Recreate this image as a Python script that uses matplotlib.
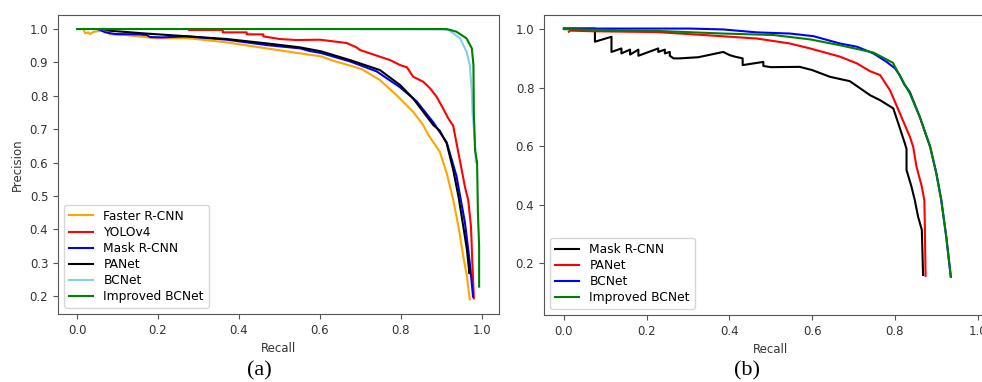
import matplotlib.pyplot as plt

# ---- panel (a) curves: recall / precision ----
a_faster_r = [0.016, 0.020, 0.028, 0.032, 0.040, 0.061, 0.070, 0.081, 0.120, 0.197, 0.270, 0.370, 0.468,
              0.551, 0.603, 0.633, 0.703, 0.748, 0.789, 0.830, 0.855, 0.868, 0.896, 0.913, 0.929, 0.942,
              0.954, 0.963, 0.970]
a_faster_p = [1.000, 0.987, 0.990, 0.985, 0.991, 0.996, 0.996, 0.984, 0.982, 0.972, 0.973, 0.960, 0.942,
              0.927, 0.918, 0.905, 0.880, 0.847, 0.802, 0.752, 0.712, 0.682, 0.632, 0.568, 0.488, 0.408,
              0.318, 0.258, 0.190]

a_yolo_r = [0.277, 0.360, 0.360, 0.419, 0.419, 0.460, 0.460, 0.501, 0.542, 0.600, 0.640, 0.666, 0.690,
            0.699, 0.748, 0.773, 0.798, 0.815, 0.830, 0.855, 0.872, 0.888, 0.904, 0.917, 0.929, 0.942,
            0.950, 0.958, 0.966, 0.973, 0.976, 0.980]
a_yolo_p = [0.997, 0.997, 0.990, 0.990, 0.984, 0.984, 0.978, 0.970, 0.967, 0.968, 0.962, 0.958, 0.945,
            0.937, 0.917, 0.907, 0.892, 0.885, 0.857, 0.842, 0.822, 0.797, 0.762, 0.732, 0.710, 0.628,
            0.578, 0.527, 0.488, 0.408, 0.308, 0.193]

a_mask_r = [0.055, 0.070, 0.094, 0.150, 0.172, 0.180, 0.210, 0.271, 0.370, 0.468, 0.551, 0.575, 0.603,
            0.674, 0.740, 0.797, 0.839, 0.880, 0.913, 0.937, 0.958, 0.970, 0.978]
a_mask_p = [0.998, 0.990, 0.985, 0.984, 0.982, 0.976, 0.975, 0.978, 0.968, 0.952, 0.942, 0.934, 0.928,
            0.903, 0.873, 0.826, 0.783, 0.720, 0.660, 0.560, 0.420, 0.300, 0.198]

a_panet_r = [0.065, 0.080, 0.164, 0.287, 0.370, 0.468, 0.551, 0.603, 0.674, 0.748, 0.798, 0.830, 0.855,
             0.880, 0.896, 0.913, 0.929, 0.942, 0.954, 0.963, 0.969, 0.969]
a_panet_p = [1.000, 0.995, 0.987, 0.977, 0.970, 0.957, 0.945, 0.933, 0.907, 0.877, 0.832, 0.792, 0.752,
             0.712, 0.695, 0.657, 0.578, 0.498, 0.408, 0.338, 0.268, 0.290]

a_bcnet_r = [0.000, 0.300, 0.600, 0.900, 0.918, 0.946, 0.962, 0.970, 0.975, 0.977, 0.979, 0.983, 0.985]
a_bcnet_p = [1.000, 1.000, 1.000, 0.999, 0.997, 0.972, 0.932, 0.892, 0.812, 0.742, 0.720, 0.657, 0.600]

a_imp_r = [0.000, 0.300, 0.600, 0.913, 0.937, 0.962, 0.975, 0.979, 0.980, 0.983, 0.988, 0.990, 0.993, 0.993]
a_imp_p = [1.000, 1.000, 1.000, 1.000, 0.992, 0.972, 0.942, 0.892, 0.750, 0.637, 0.600, 0.450, 0.350, 0.228]

# ---- panel (b) curves ----
b_mask_r = [0.000, 0.075, 0.075, 0.115, 0.115, 0.139, 0.139, 0.160, 0.160, 0.180, 0.180, 0.228, 0.228,
            0.244, 0.244, 0.256, 0.256, 0.265, 0.280, 0.325, 0.385, 0.401, 0.413, 0.432, 0.432, 0.482,
            0.482, 0.500, 0.570, 0.600, 0.643, 0.691, 0.740, 0.764, 0.796, 0.808, 0.824, 0.828, 0.828,
            0.840, 0.848, 0.856, 0.865, 0.868]
b_mask_p = [1.002, 1.002, 0.957, 0.974, 0.922, 0.934, 0.917, 0.930, 0.913, 0.930, 0.909, 0.934, 0.922,
            0.930, 0.917, 0.922, 0.909, 0.900, 0.900, 0.904, 0.922, 0.911, 0.906, 0.900, 0.877, 0.888,
            0.874, 0.870, 0.871, 0.860, 0.837, 0.822, 0.774, 0.757, 0.729, 0.678, 0.609, 0.590, 0.518,
            0.461, 0.415, 0.358, 0.313, 0.159]

b_panet_r = [0.012, 0.015, 0.063, 0.224, 0.337, 0.466, 0.546, 0.595, 0.667, 0.708, 0.740, 0.764, 0.788,
             0.812, 0.836, 0.844, 0.852, 0.865, 0.871, 0.872, 0.874]
b_panet_p = [0.991, 0.995, 0.993, 0.990, 0.980, 0.968, 0.951, 0.934, 0.906, 0.883, 0.856, 0.843, 0.791,
             0.712, 0.632, 0.598, 0.530, 0.461, 0.415, 0.350, 0.156]

b_bcnet_r = [0.000, 0.305, 0.385, 0.466, 0.546, 0.603, 0.667, 0.708, 0.748, 0.780, 0.800, 0.812, 0.822,
             0.836, 0.860, 0.885, 0.900, 0.912, 0.924, 0.935]
b_bcnet_p = [1.002, 1.002, 0.999, 0.989, 0.985, 0.976, 0.951, 0.940, 0.917, 0.888, 0.866, 0.842, 0.812,
             0.785, 0.700, 0.598, 0.507, 0.415, 0.290, 0.153]

b_imp_r = [0.000, 0.224, 0.385, 0.506, 0.595, 0.667, 0.748, 0.795, 0.812, 0.836, 0.860, 0.885, 0.900,
           0.912, 0.924, 0.935]
b_imp_p = [1.000, 0.994, 0.985, 0.980, 0.965, 0.945, 0.920, 0.885, 0.840, 0.780, 0.700, 0.598, 0.507,
           0.415, 0.290, 0.153]

names_a = ['Faster R-CNN', 'YOLOv4', 'Mask R-CNN', 'PANet', 'BCNet', 'Improved BCNet']
names_b = ['Mask R-CNN', 'PANet', 'BCNet', 'Improved BCNet']

plt.rcParams['font.family'] = 'DejaVu Sans'
plt.rcParams['font.size'] = 8.5
plt.rcParams['axes.edgecolor'] = '#555555'
plt.rcParams['xtick.color'] = '#555555'
plt.rcParams['ytick.color'] = '#555555'
plt.rcParams['xtick.labelcolor'] = '#333333'
plt.rcParams['ytick.labelcolor'] = '#333333'

fig = plt.figure(figsize=(9.82, 3.82), dpi=100)
ax1 = fig.add_axes([0.0591, 0.178, 0.449, 0.7827])
ax2 = fig.add_axes([0.554, 0.1754, 0.461, 0.785])

lw = 1.5
ax1.plot(a_faster_r, a_faster_p, color='orange', lw=lw, label=names_a[0])
ax1.plot(a_yolo_r, a_yolo_p, color='red', lw=lw, label=names_a[1])
ax1.plot(a_mask_r, a_mask_p, color='blue', lw=lw, label=names_a[2])
ax1.plot(a_panet_r, a_panet_p, color='black', lw=lw, label=names_a[3])
ax1.plot(a_bcnet_r, a_bcnet_p, color='skyblue', lw=lw, label=names_a[4])
ax1.plot(a_imp_r, a_imp_p, color='green', lw=lw, label=names_a[5])
ax1.set_xlim(-0.047, 1.042)
ax1.set_ylim(0.146, 1.042)
ax1.set_yticks([0.2, 0.3, 0.4, 0.5, 0.6, 0.7, 0.8, 0.9, 1.0])
ax1.set_xticks([0.0, 0.2, 0.4, 0.6, 0.8, 1.0])
ax1.set_xlabel('Recall', color='#333333')
ax1.set_ylabel('Precision', color='#333333')
ax1.legend(loc='lower left', fontsize=8.8, labelspacing=0.25)

ax2.plot(b_mask_r, b_mask_p, color='black', lw=lw, label=names_b[0])
ax2.plot(b_panet_r, b_panet_p, color='red', lw=lw, label=names_b[1])
ax2.plot(b_bcnet_r, b_bcnet_p, color='blue', lw=lw, label=names_b[2])
ax2.plot(b_imp_r, b_imp_p, color='green', lw=lw, label=names_b[3])
ax2.set_xlim(-0.048, 1.046)
ax2.set_ylim(0.022, 1.048)
ax2.set_yticks([0.2, 0.4, 0.6, 0.8, 1.0])
ax2.set_xticks([0.0, 0.2, 0.4, 0.6, 0.8, 1.0])
ax2.set_xlabel('Recall', color='#333333')
ax2.legend(loc='lower left', fontsize=8.8, labelspacing=0.25)

fig.text(0.264, 0.028, '(a)', family='Liberation Serif', fontsize=16, ha='center', va='center')
fig.text(0.761, 0.028, '(b)', family='Liberation Serif', fontsize=16, ha='center', va='center')

fig.savefig('out.png', dpi=100)
